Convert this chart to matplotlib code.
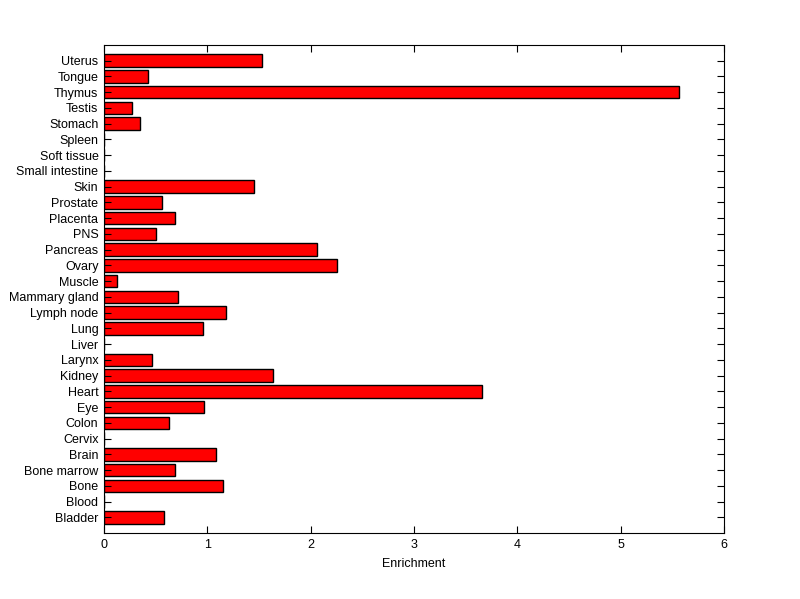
import matplotlib
matplotlib.use('Agg')
import matplotlib.pyplot as plt
import numpy as np

plt.rcParams['font.family'] = ['Liberation Sans', 'DejaVu Sans']

# tissues listed bottom -> top
tissues = ['Bladder', 'Blood', 'Bone', 'Bone marrow', 'Brain', 'Cervix', 'Colon', 'Eye',
           'Heart', 'Kidney', 'Larynx', 'Liver', 'Lung', 'Lymph node', 'Mammary gland',
           'Muscle', 'Ovary', 'Pancreas', 'PNS', 'Placenta', 'Prostate', 'Skin',
           'Small intestine', 'Soft tissue', 'Spleen', 'Stomach', 'Testis', 'Thymus',
           'Tongue', 'Uterus']
enrichment = [0.58, 0.0, 1.15, 0.69, 1.08, 0.0, 0.63, 0.97,
              3.66, 1.64, 0.46, 0.0, 0.96, 1.18, 0.72,
              0.13, 2.25, 2.06, 0.50, 0.69, 0.56, 1.45,
              0.0, 0.0, 0.0, 0.35, 0.27, 5.56,
              0.43, 1.53]
xticks = [0, 1, 2, 3, 4, 5, 6]

fig = plt.figure(figsize=(8, 5.99), dpi=100)
ax = fig.add_axes([0.13, 0.11, 0.775, 0.815])

pos = np.arange(1, len(tissues) + 1)
ax.barh(pos, enrichment, height=0.8, color='#ff0000', edgecolor='black', linewidth=1)

ax.set_xlim(0, 6)
ax.set_ylim(0, len(tissues) + 1)
ax.set_xticks(xticks)
ax.set_yticks(pos)
ax.set_yticklabels(tissues)
ax.set_xlabel('Enrichment', fontsize=9, labelpad=5)

ax.tick_params(direction='in', top=True, right=True, length=5, width=0.8,
               labelsize=9, pad=4)
for s in ax.spines.values():
    s.set_linewidth(0.8)

fig.savefig('out.png', dpi=100)
